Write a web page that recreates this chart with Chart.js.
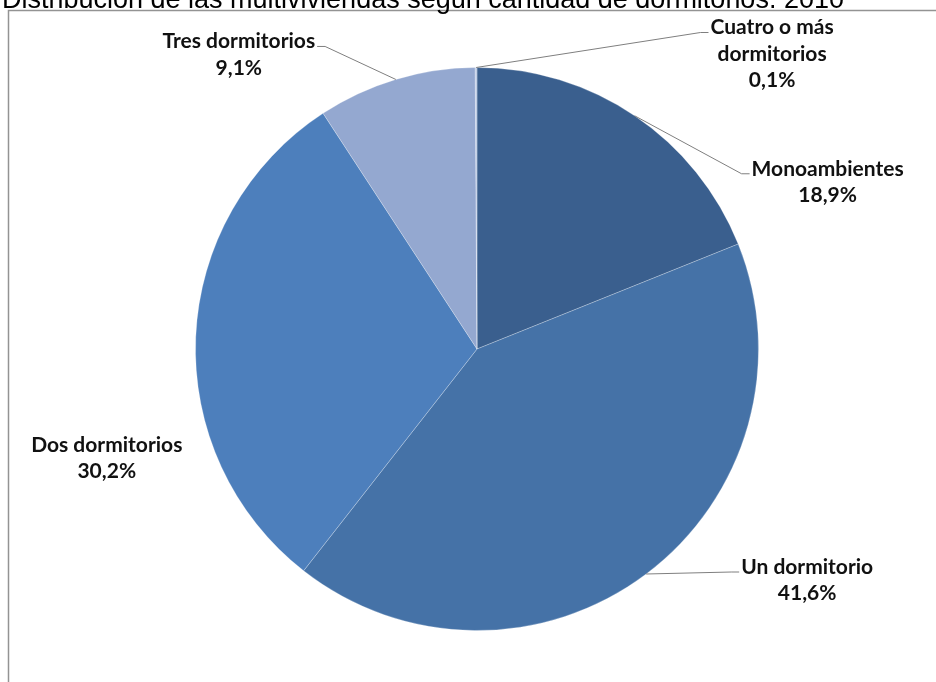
<!DOCTYPE html>
<html lang="es">
<head>
<meta charset="utf-8">
<title>Distribución de las multiviviendas según cantidad de dormitorios. 2010</title>
<script src="https://cdn.jsdelivr.net/npm/chart.js@4.4.1/dist/chart.umd.min.js"></script>
<style>
  html, body { margin: 0; padding: 0; background: #fff; }
  canvas { display: block; }
</style>
</head>
<body>
<canvas id="pie" width="936" height="682"></canvas>
<script>
  // Datos
  const title = 'Distribución de las multiviviendas según cantidad de dormitorios. 2010';
  const categories = ['Monoambientes', 'Un dormitorio', 'Dos dormitorios', 'Tres dormitorios', 'Cuatro o más dormitorios'];
  const labelLines = [['Monoambientes'], ['Un dormitorio'], ['Dos dormitorios'], ['Tres dormitorios'], ['Cuatro o más', 'dormitorios']];
  const shares = [18.9, 41.6, 30.2, 9.1, 0.1];

  // Estilo
  const colors = ['#3a5f8e', '#4572a7', '#4d7fbc', '#94a8d0', '#b9c8e4'];
  // where each label sits, relative to the middle of its slice's outer edge
  const labelOffsets = [[193, 53], [161, -7], [-89, 108], [-157, -38], [296, -40]];
  const showLeader = [true, true, false, true, true];
  const labelFont = 'bold 21px Lato';
  const lineHeight = 26.5;

  function pct(v) {
    return v.toFixed(1).replace('.', ',') + '%';
  }

  // frame + title (the title sits half outside the picture, as in the original)
  const framePlugin = {
    id: 'frame',
    beforeDraw: function (chart) {
      const ctx = chart.ctx;
      ctx.save();
      ctx.strokeStyle = '#939393';
      ctx.lineWidth = 1.5;
      ctx.beginPath();
      ctx.moveTo(8.5, chart.height);
      ctx.lineTo(8.5, 10.5);
      ctx.lineTo(chart.width, 10.5);
      ctx.stroke();
      ctx.fillStyle = '#000';
      ctx.font = '27px "Liberation Sans", Arial, sans-serif';
      ctx.textBaseline = 'alphabetic';
      ctx.textAlign = 'left';
      ctx.fillText(title, 2, 7.5);
      ctx.restore();
    }
  };

  // etiquetas con lineas guia
  const labelPlugin = {
    id: 'sliceLabels',
    afterDatasetsDraw: function (chart) {
      const ctx = chart.ctx;
      const arcs = chart.getDatasetMeta(0).data;
      ctx.save();
      ctx.font = labelFont;
      ctx.textAlign = 'center';
      ctx.textBaseline = 'middle';
      arcs.forEach(function (arc, i) {
        const p = arc.getProps(['x', 'y', 'startAngle', 'endAngle', 'outerRadius'], true);
        const mid = (p.startAngle + p.endAngle) / 2;
        const ax = p.x + Math.cos(mid) * p.outerRadius;
        const ay = p.y + Math.sin(mid) * p.outerRadius;
        const cx = ax + labelOffsets[i][0];
        const cy = ay + labelOffsets[i][1];
        const lines = labelLines[i].concat([pct(shares[i])]);

        if (showLeader[i]) {
          const w = ctx.measureText(lines[0]).width;
          const right = cx < ax;
          const ex = right ? cx + w / 2 + 2 : cx - w / 2 - 2;
          const ey = cy + 5;
          const kx = right ? ex + 8 : ex - 8;
          ctx.strokeStyle = '#7f7f7f';
          ctx.lineWidth = 1;
          ctx.beginPath();
          ctx.moveTo(ax, ay);
          ctx.lineTo(kx, ey);
          ctx.lineTo(ex, ey);
          ctx.stroke();
        }

        ctx.fillStyle = '#111';
        lines.forEach(function (t, j) {
          ctx.fillText(t, cx, cy + j * lineHeight);
        });
      });
      ctx.restore();
    }
  };

  const data = {
    labels: categories,
    datasets: [{
      data: shares,
      backgroundColor: colors,
      borderColor: 'rgba(255,255,255,0.25)',
      borderWidth: 1
    }]
  };

  const config = {
    type: 'pie',
    data: data,
    options: {
      responsive: false,
      animation: false,
      devicePixelRatio: 1,
      layout: { padding: { left: 195, right: 177, top: 67, bottom: 51 } },
      plugins: {
        legend: { display: false },
        tooltip: { enabled: false }
      }
    },
    plugins: [framePlugin, labelPlugin]
  };

  const pieChart = new Chart(document.getElementById('pie'), config);
</script>
</body>
</html>
